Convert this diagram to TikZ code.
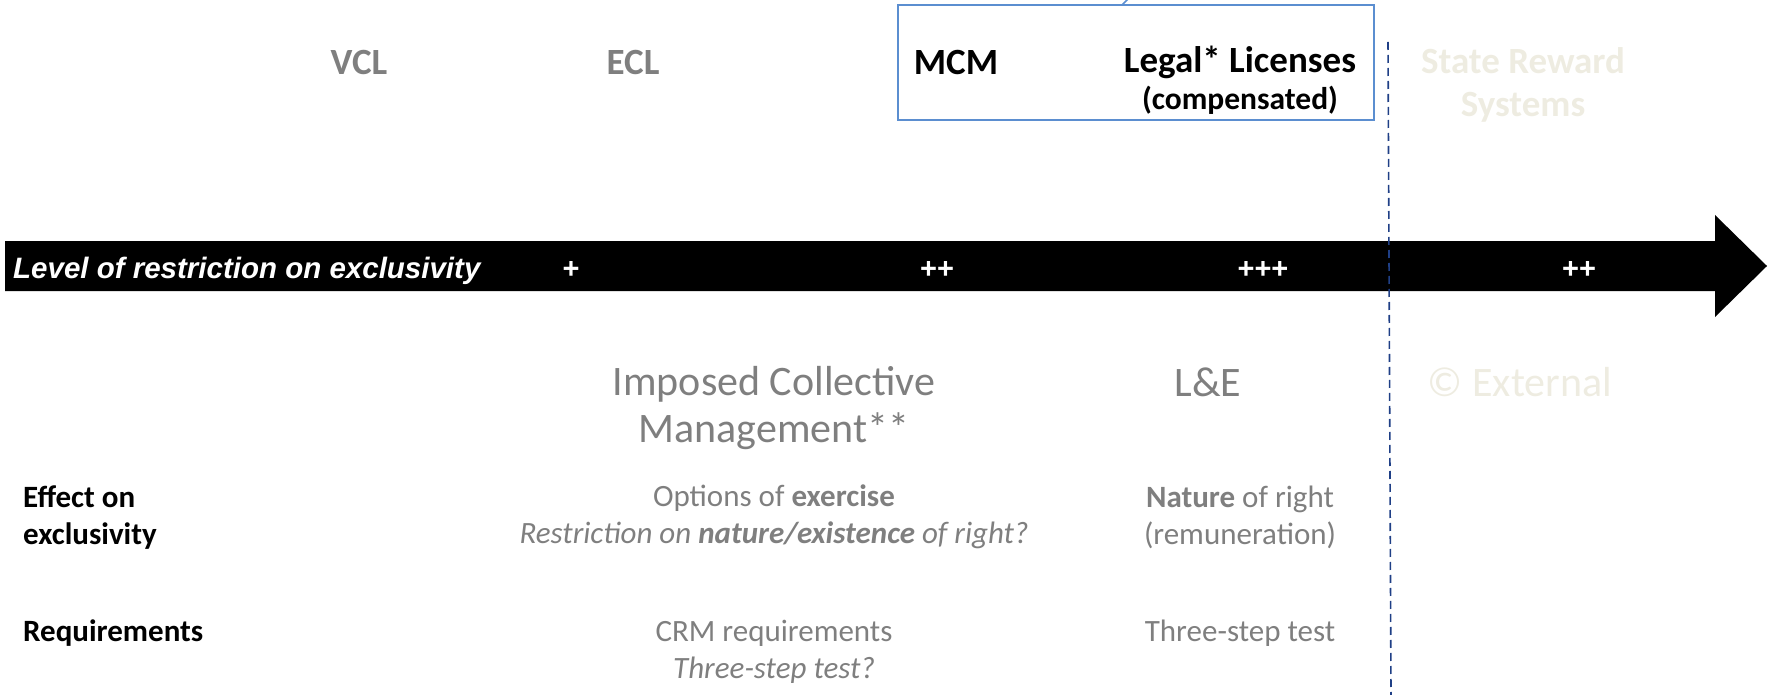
\documentclass[tikz,border=0pt]{standalone}
\usepackage{fontspec}
\setmainfont{Carlito}
\newfontfamily\arialfont{Liberation Sans}
\definecolor{txtgray}{HTML}{7F7F7F}
\definecolor{beige}{HTML}{EEECE1}
\definecolor{boxblue}{HTML}{5B8ED0}
\definecolor{dashblue}{HTML}{1F3F86}
\begin{document}
\begin{tikzpicture}[x=1pt,y=-1pt,
  toplabel/.style={inner sep=0pt, font=\fontsize{37}{43}\selectfont\bfseries, align=center},
  plusmark/.style={inner sep=0pt, text=white, font=\arialfont\fontsize{29}{32}\selectfont\bfseries},
  biglabel/.style={inner sep=0pt, text=txtgray, font=\fontsize{42}{47}\selectfont, align=center},
  rowhead/.style={inner sep=0pt, anchor=west, font=\fontsize{31}{37}\selectfont\bfseries, align=left},
  cell/.style={inner sep=0pt, text=txtgray, font=\fontsize{31}{37}\selectfont, align=center}]
\useasboundingbox (0,0) rectangle (1772,695);
% big arrow
\fill[black] (5,241) -- (1715,241) -- (1715,215) -- (1767,266) -- (1715,317) -- (1715,291) -- (5,291) -- cycle;
% dashed separator
\coordinate (dtop) at (1388,42);
\coordinate (dbot) at (1391,695);
\draw[dashblue, line width=1.6pt, dash pattern=on 8pt off 5pt] (dtop) -- (dbot);
% box
\node[draw=boxblue, line width=1.5pt, minimum width=476pt, minimum height=115pt, inner sep=0pt] (box) at (1136,62.5) {};
\coordinate (s1) at (1122,5);
\coordinate (s2) at (1130,-3);
\draw[boxblue, line width=1.5pt] (s1) -- (s2);
% top labels
\node[toplabel, text=txtgray] (vcl) at (359,62) {VCL};
\node[toplabel, text=txtgray] (ecl) at (633,62) {ECL};
\node[toplabel] (mcm) at (956,62) {MCM};
\node[toplabel] (legal) at (1240,62) {Legal* Licenses};
\node[inner sep=0pt, font=\fontsize{31.5}{36}\selectfont\bfseries] (comp) at (1240,100.5) {(compensated)};
\node[toplabel, text=beige] (srs) at (1523,84.5) {State Reward\\Systems};
% arrow text
\node[inner sep=0pt, anchor=west, text=white, font=\arialfont\fontsize{29.5}{32}\selectfont\bfseries\itshape] (level) at (13,270.5) {Level of restriction on exclusivity};
\node[plusmark] (p1) at (571,269.5) {+};
\node[plusmark] (p2) at (937,269.5) {++};
\node[plusmark] (p3) at (1263,269.5) {+++};
\node[plusmark] (p4) at (1579,269.5) {++};
% lower labels
\node[biglabel] (icm) at (774,408.5) {Imposed Collective\\Management**};
\node[biglabel] (le) at (1208,382) {L\&E};
\node[biglabel, text=beige] (ext) at (1520,382) {© External};
\node[rowhead] (effect) at (23,517.5) {Effect on\\exclusivity};
\node[rowhead] (req) at (23,633.5) {Requirements};
\node[cell] (opt) at (774,517) {Options of \textbf{exercise}\\\textit{Restriction on \textbf{nature/existence} of right?}};
\node[cell] (nat) at (1240,517) {\textbf{Nature} of right\\(remuneration)};
\node[cell] (crm) at (774,651.5) {CRM requirements\\\textit{Three-step test?}};
\node[cell] (tst) at (1240,633.5) {Three-step test};
\end{tikzpicture}
\end{document}
